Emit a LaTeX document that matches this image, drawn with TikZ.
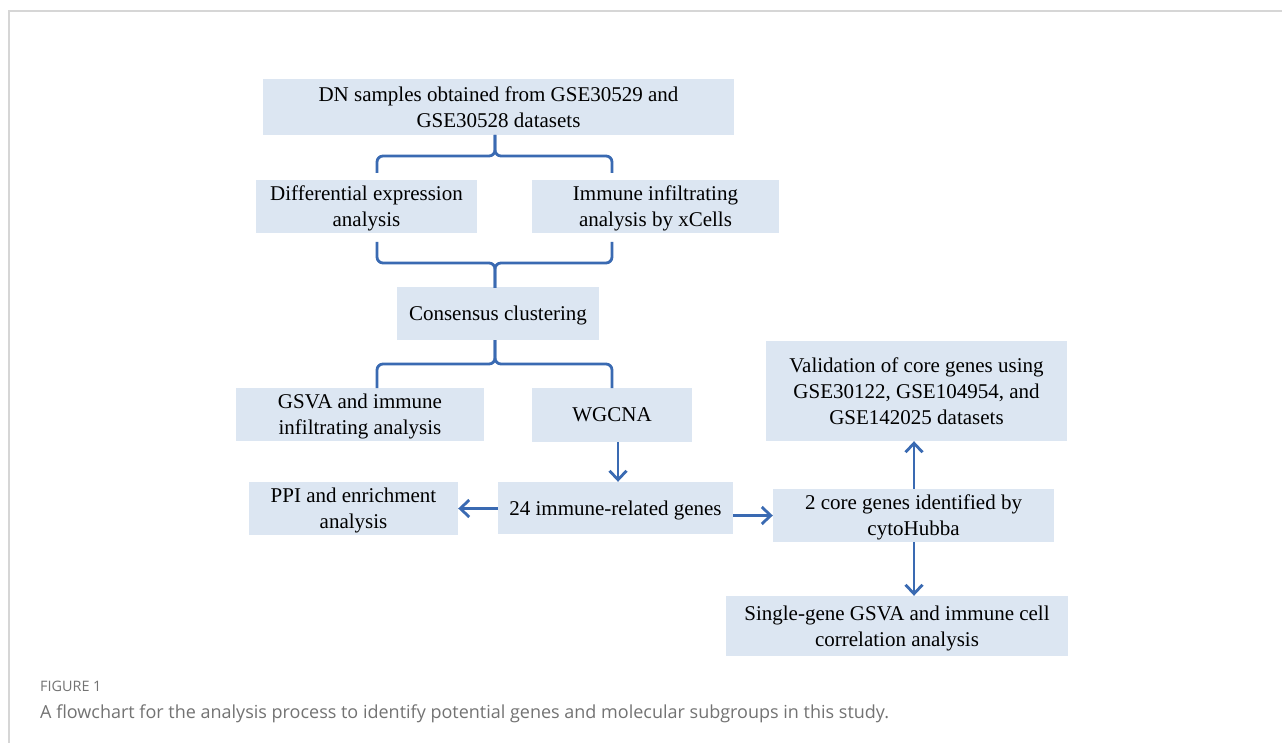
\documentclass[tikz,border=0pt]{standalone}
\usepackage{fontspec}
\setmainfont{Liberation Serif}
\newfontfamily\capfont{Open Sans}
\usetikzlibrary{arrows.meta,calc}
\definecolor{boxfill}{HTML}{DCE6F2}
\definecolor{lineblue}{HTML}{3A6AB2}
\definecolor{framegray}{HTML}{D6D6D6}
\definecolor{capgray}{HTML}{737373}
\begin{document}
\begin{tikzpicture}[x=1pt,y=-1pt,
  box/.style={fill=boxfill,draw=none,inner sep=0pt,align=center,text depth=0pt,
    font=\fontsize{21}{26}\selectfont,text=black},
  arr/.style={draw=lineblue,line width=2.8pt,-{Straight Barb[length=9pt,width=17pt,line width=2.8pt]}},
  brc/.style={draw=lineblue,line width=2.8pt,rounded corners=6pt}]
\useasboundingbox (0,0) rectangle (1282,743);
\fill[white] (0,0) rectangle (1282,743);
\draw[framegray,line width=2pt] (9,743) -- (9,11) -- (1282,11);

\node[box,minimum width=471,minimum height=56] (dn) at (498.5,107) {DN samples obtained from GSE30529 and\\GSE30528 datasets};
\node[box,minimum width=221,minimum height=53] (diff) at (366.5,206.5) {Differential expression\\analysis};
\node[box,minimum width=247,minimum height=53] (imm) at (655.5,206.5) {Immune infiltrating\\analysis by xCells};
\node[box,minimum width=202,minimum height=53] (cons) at (498,313.5) {Consensus clustering};
\node[box,minimum width=248,minimum height=53] (gsva) at (360,414.5) {GSVA and immune\\infiltrating analysis};
\node[box,minimum width=160,minimum height=54] (wg) at (612,415) {WGCNA};
\node[box,minimum width=301,minimum height=100] (val) at (916.5,391) {Validation of core genes using\\GSE30122, GSE104954, and\\GSE142025 datasets};
\node[box,minimum width=209,minimum height=53] (ppi) at (353.5,508.5) {PPI and enrichment\\analysis};
\node[box,minimum width=235,minimum height=52] (genes) at (615.5,508) {24 immune-related genes};
\node[box,minimum width=281,minimum height=53] (core) at (913.5,515.5) {2 core genes identified by\\cytoHubba};
\node[box,minimum width=342,minimum height=60] (single) at (897,626) {Single-gene GSVA and immune cell\\correlation analysis};

% braces
\draw[brc] (377,173) -- (377,156) -- (495,156) -- (495,135);
\draw[brc] (612,173) -- (612,156) -- (495,156) -- (495,135);
\draw[brc] (377,242) -- (377,263) -- (495,263) -- (495,288);
\draw[brc] (612,242) -- (612,263) -- (495,263) -- (495,288);
\draw[brc] (377,388) -- (377,364) -- (495,364) -- (495,340);
\draw[brc] (612,388) -- (612,364) -- (495,364) -- (495,340);

% arrows
\coordinate (ax) at (618,0);
\coordinate (cx) at (914,0);
\draw[arr] (wg.south -| ax) -- (genes.north -| ax);
\draw[arr] (genes.west |- ppi.east) -- (ppi.east);
\draw[arr] (genes.east |- core.west) -- (core.west);
\draw[arr] (core.north -| cx) -- (val.south -| cx);
\draw[arr] (core.south -| cx) -- (single.north -| cx);

% caption
\node[anchor=base west,inner sep=0pt,text=capgray,font=\capfont\fontsize{14.4}{16}\selectfont] (fig) at (40,691) {FIGURE 1};
\node[anchor=base west,inner sep=0pt,text=capgray,font=\capfont\fontsize{18}{21}\selectfont] (cap) at (40,718) {A flowchart for the analysis process to identify potential genes and molecular subgroups in this study.};
\end{tikzpicture}
\end{document}
